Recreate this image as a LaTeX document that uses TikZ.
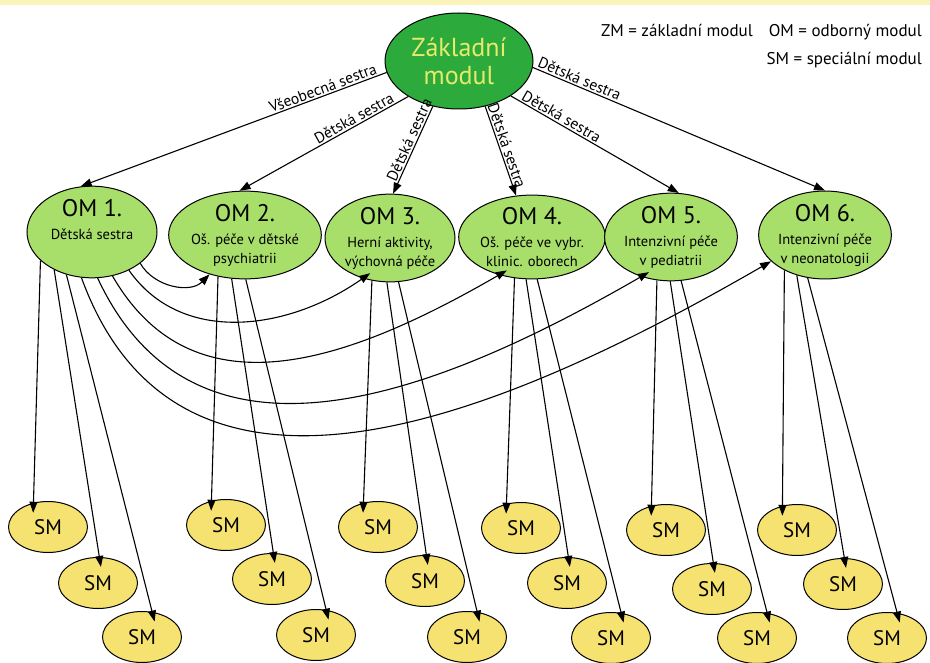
\documentclass[tikz,border=0pt]{standalone}
\usepackage{fontspec}
\setmainfont{PT Sans}
\usetikzlibrary{shapes.geometric, arrows.meta}
\definecolor{zmgreen}{RGB}{44, 170, 60}
\definecolor{zmtext}{RGB}{232, 234, 108}
\definecolor{omgreen}{RGB}{168, 222, 106}
\definecolor{smyellow}{RGB}{246, 226, 112}
\definecolor{bandyellow}{RGB}{252, 243, 186}
\newcommand{\omhead}[1]{{\fontsize{24}{24}\selectfont #1}\\[4pt]}

\begin{document}
\begin{tikzpicture}[x=1pt, y=-1pt,
    zm/.style={ellipse, draw, line width=1pt, fill=zmgreen, text=zmtext, minimum width=148pt,
               minimum height=96pt, inner sep=0pt, align=center, font=\fontsize{26}{28}\selectfont},
    om/.style={ellipse, draw, line width=1pt, fill=omgreen, minimum width=130pt,
               minimum height=80pt, inner sep=0pt, align=center, font=\fontsize{14.5}{19}\selectfont},
    sm/.style={ellipse, draw, line width=1pt, fill=smyellow, minimum width=79pt,
               minimum height=51pt, inner sep=0pt, font=\fontsize{21}{21}\selectfont},
    lbl/.style={sloped, above, inner sep=1.5pt, font=\fontsize{15.5}{15.5}\selectfont},
    legend/.style={inner sep=0pt, anchor=base east, font=\fontsize{17}{17}\selectfont},
    arr/.style={line width=1.1pt, -{Triangle[length=11pt, width=8pt]}}]
    \useasboundingbox (0,0) rectangle (930,663);
    \fill[bandyellow] (0,0) rectangle (930,5);

    % legenda
    \node[legend] (leg1) at (922,37) {ZM = základní modul\hspace{16pt}OM = odborný modul};
    \node[legend] (leg2) at (922,65) {SM = speciální modul};

    % moduly
    \node[zm] (zm)  at (459, 61) {Základní\\modul};
    \node[om] (om1) at ( 92,232) {\omhead{OM 1.}Dětská sestra\\\strut};
    \node[om] (om2) at (245,235) {\omhead{OM 2.}Oš. péče v dětské\\psychiatrii};
    \node[om] (om3) at (390,238) {\omhead{OM 3.}Herní aktivity,\\výchovná péče};
    \node[om] (om4) at (532,237) {\omhead{OM 4.}Oš. péče ve vybr.\\klinic. oborech};
    \node[om] (om5) at (671,237) {\omhead{OM 5.}Intenzivní péče\\v pediatrii};
    \node[om] (om6) at (825,235) {\omhead{OM 6.}Intenzivní péče\\v neonatologii};

    \node[sm] (sm1-1) at ( 48,527) {SM};
    \node[sm] (sm1-2) at ( 98,583) {SM};
    \node[sm] (sm1-3) at (142,637) {SM};
    \node[sm] (sm2-1) at (226,525) {SM};
    \node[sm] (sm2-2) at (272,579) {SM};
    \node[sm] (sm2-3) at (316,635) {SM};
    \node[sm] (sm3-1) at (378,527) {SM};
    \node[sm] (sm3-2) at (425,581) {SM};
    \node[sm] (sm3-3) at (467,637) {SM};
    \node[sm] (sm4-1) at (521,528) {SM};
    \node[sm] (sm4-2) at (567,583) {SM};
    \node[sm] (sm4-3) at (611,638) {SM};
    \node[sm] (sm5-1) at (666,530) {SM};
    \node[sm] (sm5-2) at (712,589) {SM};
    \node[sm] (sm5-3) at (757,638) {SM};
    \node[sm] (sm6-1) at (797,530) {SM};
    \node[sm] (sm6-2) at (843,584) {SM};
    \node[sm] (sm6-3) at (887,638) {SM};

    % zakladni modul -> odborne moduly
    \draw[arr] (zm.189) -- node[lbl, pos=0.20] {Všeobecná sestra} (om1.104);
    \draw[arr] (zm.215) -- node[lbl, pos=0.30] {Dětská sestra}    (om2.97);
    \draw[arr] (zm.240) -- node[lbl, pos=0.42] {Dětská sestra}    (om3.86);
    \draw[arr] (zm.300) -- node[lbl, pos=0.47] {Dětská sestra}    (om4.111);
    \draw[arr] (zm.326) -- node[lbl, pos=0.28] {Dětská sestra}    (om5.80);
    \draw[arr] (zm.355) -- node[lbl, pos=0.15] {Dětská sestra}    (om6.90);

    % OM 1 -> ostatni OM
    \draw[arr]                  (om1.327) to[out=-60, in=-135]              (om2.228);
    \draw[arr, shorten >=-9pt]  (om1.314) to[out=-55, in=-145]              (om3.236);
    \draw[arr, shorten >=-9pt]  (om1.295) to[out=-60, in=-150, looseness=1.1] (om4.229);
    \draw[arr, shorten >=-9pt]  (om1.277) to[out=-65, in=-150, looseness=1.1] (om5.233);
    \draw[arr]                  (om1.257) to[out=-70, in=-150, looseness=1.1] (om6.206);

    % OM -> specialni moduly
    \foreach \o/\a/\b/\c in {1/209/225/239, 2/237/253/271, 3/247/266/281,
                             4/247/262/277, 5/252/269/283, 6/221/235/248}{
        \draw[arr, shorten >=-10pt] (om\o.\a) -- (sm\o-1.121);
        \draw[arr, shorten >=-10pt] (om\o.\b) -- (sm\o-2.87);
        \draw[arr, shorten >=-10pt] (om\o.\c) -- (sm\o-3.68);
    }
\end{tikzpicture}
\end{document}
